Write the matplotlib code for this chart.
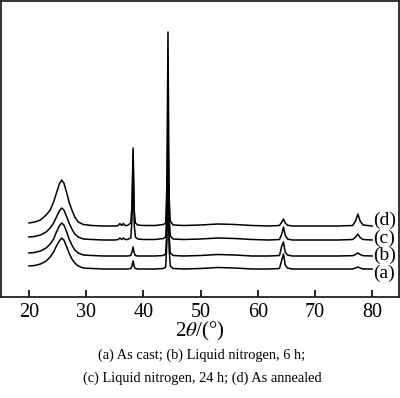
import numpy as np
import matplotlib
matplotlib.use('Agg')
import matplotlib.pyplot as plt

plt.rcParams['font.family'] = ['Liberation Serif', 'DejaVu Serif']
plt.rcParams['mathtext.fontset'] = 'stix'

# shared 2-theta grid (deg)
two_theta = [20, 21, 22, 23, 23.7, 24.3, 24.8, 25.3, 25.7, 26.1, 26.6, 27.0, 27.5,
             28.0, 28.6, 29.5, 31, 33, 35, 35.6, 35.9, 36.2, 36.5, 36.8, 37.2,
             37.8, 38.0, 38.2, 38.4, 38.6, 39.0, 40, 42, 43.5, 43.9, 44.1, 44.3,
             44.5, 44.7, 45.2, 47, 50, 53, 56, 59, 62, 63.8, 64.2, 64.5, 64.8,
             65.2, 66, 70, 74, 76.6, 77.1, 77.5, 77.9, 78.4, 80]

# intensities (a.u.), relative to each pattern's baseline
int_a = [3, 3.5, 5, 8, 12, 17, 23, 28, 31, 29, 22, 16, 10,
         6, 3, 1, 0.5, 0, 0, 0, 0, 0, 0, 0, 0,
         0.5, 3, 8, 2, 0.5, 0, 0, 0, 0.5, 2, 25, 90,
         20, 3, 0.5, 0, 0.5, 1.5, 1, 0, 0, 0.5, 9, 15, 4,
         1, 0, 0, 0, 0, 1, 2, 1, 0, 0]
int_b = [3, 3.5, 5, 8, 12, 17, 24, 30, 33, 31, 24, 17, 11,
         6, 3, 1, 0.5, 0, 0, 0, 0, 0, 0, 0, 0,
         0.5, 4, 9, 3, 0.5, 0, 0, 0, 0.5, 2, 25, 95,
         20, 3, 0.5, 0, 0.5, 1.5, 1, 0, 0, 0.5, 10, 14, 4,
         1, 0, 0, 0, 0.3, 1.5, 3, 1.5, 0.3, 0]
int_c = [3, 3.5, 5, 8, 12, 17, 23, 29, 32, 30, 23, 17, 11,
         6, 3, 1, 0.5, 0, 0, 0.5, 2, 0.5, 2, 0.5, 0.5,
         2, 20, 86, 15, 3, 1, 0.5, 0.5, 1.5, 3, 30, 115,
         25, 4, 1, 0.5, 1, 2, 1.5, 0.5, 0, 0.5, 6, 13, 5,
         1, 0, 0, 0, 0.5, 3, 6, 2.5, 0.5, 0]
int_d = [3, 4, 6, 11, 16, 24, 33, 42, 46, 43, 33, 24, 16,
         9, 4, 1.5, 0.5, 0, 0, 0.5, 2.5, 0.5, 2.5, 0.5, 0.5,
         3, 20, 78, 15, 3, 1, 0.5, 0.5, 1.5, 3, 40, 194,
         30, 5, 1, 0.5, 1, 2, 1.5, 0.5, 0, 0.5, 4, 7, 3,
         0.8, 0, 0, 0, 0.5, 5, 12, 5, 1, 0]

curves = [int_a, int_b, int_c, int_d]
offsets = [28, 41, 57, 71]
labels = ['(a)', '(b)', '(c)', '(d)']
label_y = [24, 42, 59, 77]

caption = ['(a) As cast; (b) Liquid nitrogen, 6 h;',
           '(c) Liquid nitrogen, 24 h; (d) As annealed']

fig = plt.figure(figsize=(4.0, 3.98), dpi=100)
ax = fig.add_axes([0.0025, 1 - 297 / 398, 0.995, 296 / 398])

for y, off in zip(curves, offsets):
    ax.plot(two_theta, np.array(y) + off, color='black', lw=1.1)

for lab, ly in zip(labels, label_y):
    ax.text(80.1, ly, lab, fontsize=14, va='center', ha='left')

ax.set_xlim(15.1, 84.7)
ax.set_ylim(0, 296)
ax.set_xticks([20, 30, 40, 50, 60, 70, 80])
ax.set_yticks([])
ax.tick_params(axis='x', direction='in', length=5, width=1.2, labelsize=14.5, pad=4)
for sp in ax.spines.values():
    sp.set_linewidth(1.3)
    sp.set_color('#222222')
ax.set_xlabel(r'2$\theta$/(°)', fontsize=15, labelpad=-1)

fig.text(0.505, 1 - 355 / 398, caption[0], fontsize=10.4, ha='center', va='center')
fig.text(0.505, 1 - 378 / 398, caption[1], fontsize=10.4, ha='center', va='center')

fig.savefig('out.png', dpi=100)
